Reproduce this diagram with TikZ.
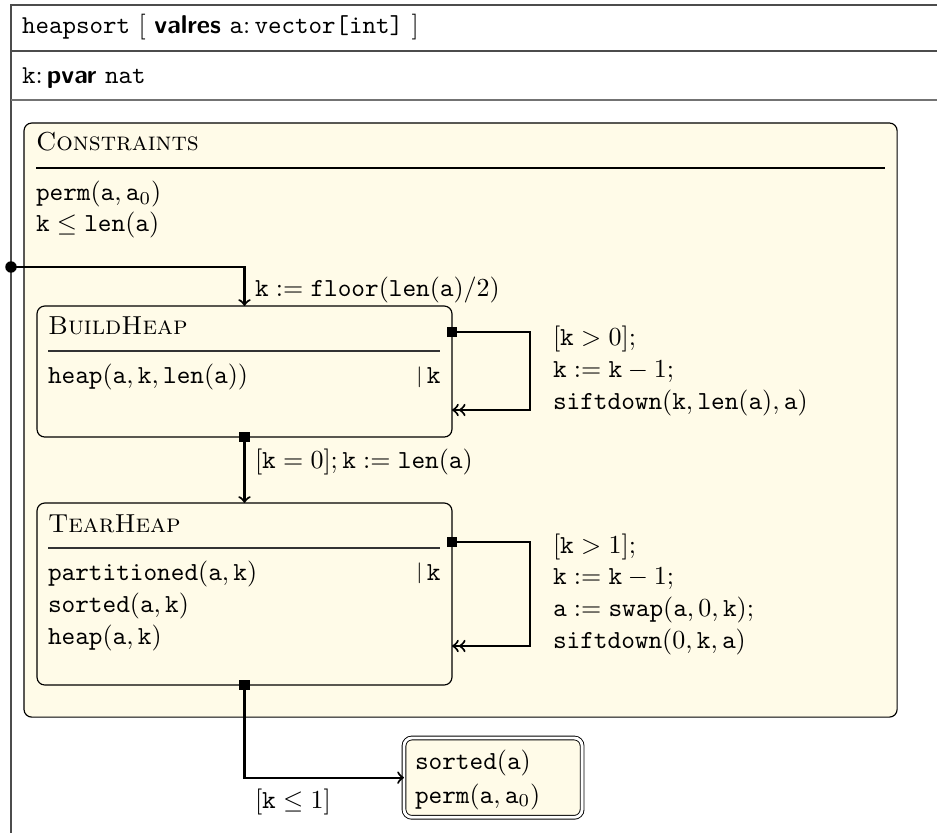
\documentclass[tikz,border=0pt]{standalone}
\usetikzlibrary{arrows}
\definecolor{cream}{RGB}{255,251,232}
\newcommand{\ttv}[1]{\mathtt{#1}}
\begin{document}
\begin{tikzpicture}[x=0.3846pt,y=-0.3846pt,
  frameline/.style={draw=black!70, line width=0.5pt},
  statebox/.style={draw, fill=cream, rounded corners=3pt, line width=0.45pt, inner sep=0pt, outer sep=0pt, anchor=north west},
  trans/.style={line width=0.8pt, >=to},
  txt/.style={anchor=base west, inner sep=0pt, outer sep=0pt},
  srcsq/.style={fill=black, minimum size=3.9pt, inner sep=0pt, outer sep=0pt},
  bar/.style={anchor=base east, inner sep=0pt},
]
\useasboundingbox (0,0) rectangle (937,833);
% outer frame
\draw[frameline] (937,5) -- (11,5) -- (11,833);
\draw[frameline] (11,51) -- (937,51);
\draw[frameline, draw=black!55] (11,100) -- (937,100);
\node[txt, font=\fontsize{9.9}{12}\selectfont] (hdr) at (22,34) {\texttt{heapsort} [ \textsf{\bfseries valres} \texttt{a}:\,\texttt{vector[int]} ]};
\node[txt, font=\fontsize{9.9}{12}\selectfont] (pv) at (22,84) {\texttt{k}:\,\textsf{\bfseries pvar} \texttt{nat}};

% constraints region
\node[statebox, minimum width=335.8pt, minimum height=228.5pt] (cons) at (24,123) {};
\node[txt] (constitle) at (36,151) {\textsc{Constraints}};
\draw[line width=0.4pt] (36,168) -- (885,168);
\node[txt] (c1) at (36,201) {$\ttv{perm}(\ttv{a},\ttv{a}_0)$};
\node[txt] (c2) at (36,232) {$\ttv{k}\le\ttv{len}(\ttv{a})$};

% BuildHeap
\node[statebox, minimum width=159.6pt, minimum height=50.4pt] (build) at (37,306) {};
\node[txt] (btitle) at (48,335) {\textsc{BuildHeap}};
\draw[line width=0.4pt, draw=black!80] (48,351) -- (440,351);
\node[txt] (b1) at (48,384) {$\ttv{heap}(\ttv{a},\ttv{k},\ttv{len}(\ttv{a}))$};
\node[bar] (bbar) at (441,384) {\raisebox{0.15ex}{\footnotesize$|$}\,$\ttv{k}$};

% TearHeap
\node[statebox, minimum width=159.6pt, minimum height=70pt] (tear) at (37,503) {};
\node[txt] (ttitle) at (48,532) {\textsc{TearHeap}};
\draw[line width=0.4pt, draw=black!80] (48,548) -- (440,548);
\node[txt] (t1) at (48,580) {$\ttv{partitioned}(\ttv{a},\ttv{k})$};
\node[txt] (t2) at (48,612) {$\ttv{sorted}(\ttv{a},\ttv{k})$};
\node[txt] (t3) at (48,644) {$\ttv{heap}(\ttv{a},\ttv{k})$};
\node[bar] (tbar) at (441,580) {\raisebox{0.15ex}{\footnotesize$|$}\,$\ttv{k}$};

% final state
\node[statebox, double, double distance=1.1pt, line width=0.35pt, minimum width=68.5pt, minimum height=30.5pt] (final) at (404,738) {};
\node[txt] (f1) at (415,769) {$\ttv{sorted}(\ttv{a})$};
\node[txt] (f2) at (415,803) {$\ttv{perm}(\ttv{a},\ttv{a}_0)$};

% initial transition
\node[circle, fill, inner sep=0pt, minimum size=4.4pt] (init) at (11,267) {};
\draw[trans,->] (init.center) -| (build.north);
\node[txt] (l0) at (255,297) {$\ttv{k}:=\ttv{floor}(\ttv{len}(\ttv{a})/2)$};

% BuildHeap self loop
\coordinate (bOut) at (452,332);
\coordinate (bIn) at (452,410);
\draw[trans,->>] (bOut) -- (530,332) |- (bIn);
\node[srcsq] (bsq) at (bOut) {};
\node[txt] (bl1) at (553,346) {$[\ttv{k}>0];$};
\node[txt] (bl2) at (553,378) {$\ttv{k}:=\ttv{k}-1;$};
\node[txt] (bl3) at (553,410) {$\ttv{siftdown}(\ttv{k},\ttv{len}(\ttv{a}),\ttv{a})$};

% Build -> Tear
\draw[trans,->] (build.south) -- (tear.north);
\node[srcsq] (bssq) at (build.south) {};
\node[txt] (l1) at (255,468) {$[\ttv{k}=0];\ttv{k}:=\ttv{len}(\ttv{a})$};

% TearHeap self loop
\coordinate (tOut) at (452,542);
\coordinate (tIn) at (452,646);
\draw[trans,->>] (tOut) -- (530,542) |- (tIn);
\node[srcsq] (tsq) at (tOut) {};
\node[txt] (tl1) at (553,553) {$[\ttv{k}>1];$};
\node[txt] (tl2) at (553,584) {$\ttv{k}:=\ttv{k}-1;$};
\node[txt] (tl3) at (553,616) {$\ttv{a}:=\ttv{swap}(\ttv{a},0,\ttv{k});$};
\node[txt] (tl4) at (553,648) {$\ttv{siftdown}(0,\ttv{k},\ttv{a})$};

% exit
\draw[trans,->] (tear.south) |- (final.west);
\node[srcsq] (tssq) at (tear.south) {};
\node[txt] (l2) at (255,808) {$[\ttv{k}\le 1]$};
\end{tikzpicture}
\end{document}
